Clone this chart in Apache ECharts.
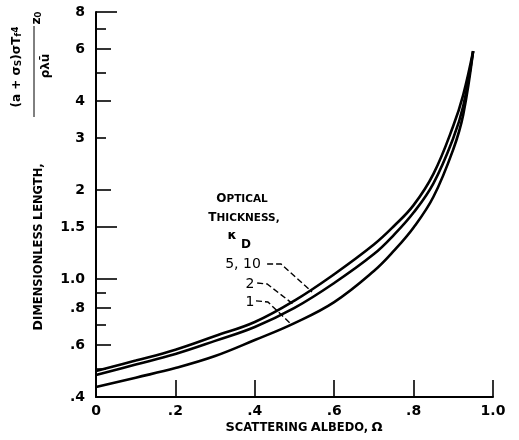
<!DOCTYPE html>
<html>
<head>
<meta charset="utf-8">
<script src="https://cdn.jsdelivr.net/npm/echarts@6/dist/echarts.min.js"></script>
<style>
  html, body { margin: 0; padding: 0; background: #fff; }
  #chart { width: 519px; height: 440px; }
</style>
</head>
<body>
<div id="chart"></div>
<script>
var chartDom = document.getElementById('chart')
var chart = echarts.init(chartDom, null, { renderer: 'canvas' })

// scattering albedo values where the curves were read
var albedo = [0, 0.1, 0.2, 0.3, 0.4, 0.5, 0.6, 0.7, 0.75, 0.8, 0.85, 0.9, 0.925, 0.95]
// dimensionless length for each optical thickness
var kappa1 = [0.432, 0.465, 0.501, 0.55, 0.623, 0.711, 0.837, 1.066, 1.246, 1.496, 1.9, 2.75, 3.6, 5.9]
var kappa2 = [0.475, 0.515, 0.559, 0.619, 0.69, 0.8, 0.971, 1.216, 1.41, 1.68, 2.11, 3.0, 3.85, 5.9]
var kappa510 = [0.49, 0.531, 0.578, 0.643, 0.717, 0.847, 1.04, 1.31, 1.51, 1.78, 2.27, 3.3, 4.2, 5.9]

// y axis ticks (log scale)
var yLabels = [8, 6, 4, 3, 2, 1.5, 1.0, 0.8, 0.6, 0.4]
var yLabelText = ['8', '6', '4', '3', '2', '1.5', '1.0', '.8', '.6', '.4']
var yTicksLong = [8, 1.5, 1.0]
var yTicksMid = [6, 4, 2, 0.8, 0.6]
var yTicksShort = [7, 5, 3, 0.9, 0.7, 0.5]

// leader lines: [label end, elbow, point on curve] in data units
var leader510 = [[0.431, 1.126], [0.466, 1.126], [0.544, 0.906]]
var leader2 = [[0.406, 0.971], [0.431, 0.964], [0.496, 0.825]]
var leader1 = [[0.403, 0.845], [0.433, 0.838], [0.491, 0.706]]

var font = 'DejaVu Sans'

function pairs(ys) {
  return albedo.map(function (x, i) { return [x, ys[i]] })
}

function yLabelFormat(v) {
  for (var i = 0; i < yLabels.length; i++) {
    if (Math.abs(yLabels[i] - v) < 1e-6) return yLabelText[i]
  }
  return ''
}

function tickAxis(values, len, withLine) {
  return {
    type: 'log',
    logBase: 10,
    min: 0.4,
    max: 8,
    position: 'left',
    offset: 0,
    axisLine: { show: withLine, lineStyle: { color: '#000', width: 2 } },
    axisTick: {
      show: true,
      inside: true,
      length: len,
      customValues: values,
      lineStyle: { color: '#000', width: 1.6 }
    },
    axisLabel: { show: false },
    splitLine: { show: false }
  }
}

function lineSeries(name, ys) {
  return {
    name: name,
    type: 'line',
    data: pairs(ys),
    smooth: 0.4,
    showSymbol: false,
    lineStyle: { color: '#000', width: 2.6 },
    silent: true
  }
}

var mainY = tickAxis(yTicksLong, 21, true)
mainY.axisLabel = {
  show: true,
  customValues: yLabels,
  formatter: yLabelFormat,
  margin: 11,
  color: '#000',
  fontFamily: font,
  fontWeight: 'bold',
  fontSize: 14
}

option = {
  backgroundColor: '#fff',
  animation: false,
  grid: { left: 96, right: 26, top: 12, bottom: 43 },
  xAxis: {
    type: 'value',
    min: 0,
    max: 1,
    interval: 0.2,
    axisLine: { lineStyle: { color: '#000', width: 2 } },
    axisTick: { inside: true, length: 17, lineStyle: { color: '#000', width: 1.6 } },
    axisLabel: {
      margin: 7,
      color: '#000',
      fontFamily: font,
      fontWeight: 'bold',
      fontSize: 14,
      formatter: function (v) {
        if (v === 0) return '0'
        if (Math.abs(v - 1) < 1e-6) return '1.0'
        return '.' + Math.round(v * 10)
      }
    },
    splitLine: { show: false }
  },
  yAxis: [mainY, tickAxis(yTicksMid, 15, false), tickAxis(yTicksShort, 10, false)],
  series: [
    lineSeries('1', kappa1),
    lineSeries('2', kappa2),
    lineSeries('5, 10', kappa510)
  ]
}

chart.setOption(option)

// annotations placed after the axes exist
function px(p) { return chart.convertToPixel({ xAxisIndex: 0, yAxisIndex: 0 }, p) }
function leader(pts) {
  return {
    type: 'polyline',
    shape: { points: pts.map(px) },
    style: { stroke: '#000', lineWidth: 1.4, lineDash: [6, 3], fill: null },
    silent: true
  }
}

var big = { fontFamily: font, fontWeight: 'bold', fontSize: 12 }
var sm = { fontFamily: font, fontWeight: 'bold', fontSize: 10.5 }
var titleBig = { fontFamily: font, fontWeight: 'bold', fontSize: 13 }
var titleSm = { fontFamily: font, fontWeight: 'bold', fontSize: 11.5 }

chart.setOption({
  graphic: [
    {
      type: 'text', x: 242, y: 199,
      style: { text: '{b|O}{s|PTICAL}', rich: { b: big, s: sm }, align: 'center', verticalAlign: 'middle', fill: '#000' }
    },
    {
      type: 'text', x: 244, y: 218,
      style: { text: '{b|T}{s|HICKNESS,}', rich: { b: big, s: sm }, align: 'center', verticalAlign: 'middle', fill: '#000' }
    },
    {
      type: 'text', x: 232, y: 236,
      style: { text: 'κ', font: 'bold 13px ' + font, align: 'center', verticalAlign: 'middle', fill: '#000' }
    },
    {
      type: 'text', x: 246, y: 245,
      style: { text: 'D', font: 'bold 12px ' + font, align: 'center', verticalAlign: 'middle', fill: '#000' }
    },
    {
      type: 'text', x: 243, y: 264,
      style: { text: '5, 10', font: '14px ' + font, align: 'center', verticalAlign: 'middle', fill: '#000' }
    },
    {
      type: 'text', x: 250, y: 284,
      style: { text: '2', font: '14px ' + font, align: 'center', verticalAlign: 'middle', fill: '#000' }
    },
    {
      type: 'text', x: 250, y: 302,
      style: { text: '1', font: '14px ' + font, align: 'center', verticalAlign: 'middle', fill: '#000' }
    },
    leader(leader510),
    leader(leader2),
    leader(leader1),
    {
      type: 'text', x: 304, y: 428,
      style: {
        text: '{b|S}{s|CATTERING} {b|A}{s|LBEDO,} {b|Ω}',
        rich: { b: titleBig, s: titleSm },
        align: 'center', verticalAlign: 'middle', fill: '#000'
      }
    },
    {
      type: 'text', x: 39, y: 247, rotation: Math.PI / 2,
      style: {
        text: '{b|D}{s|IMENSIONLESS} {b|L}{s|ENGTH,}',
        rich: { b: titleBig, s: titleSm },
        align: 'center', verticalAlign: 'middle', fill: '#000'
      }
    },
    {
      type: 'text', x: 17, y: 67, rotation: Math.PI / 2,
      style: {
        text: '{n|(a + σ}{sub|S}{n|)σT}{sub|f}{sup|4}',
        rich: {
          n: { fontFamily: font, fontWeight: 'bold', fontSize: 12 },
          sub: { fontFamily: font, fontWeight: 'bold', fontSize: 9, verticalAlign: 'bottom' },
          sup: { fontFamily: font, fontWeight: 'bold', fontSize: 9, verticalAlign: 'top' }
        },
        align: 'center', verticalAlign: 'middle', fill: '#000'
      }
    },
    {
      type: 'line', silent: true,
      shape: { x1: 34, y1: 117, x2: 34, y2: 26 },
      style: { stroke: '#000', lineWidth: 1 }
    },
    {
      type: 'text', x: 46, y: 66, rotation: Math.PI / 2,
      style: { text: 'ρλū', font: 'bold 12px ' + font, align: 'center', verticalAlign: 'middle', fill: '#000' }
    },
    {
      type: 'text', x: 37, y: 18, rotation: Math.PI / 2,
      style: {
        text: '{n|z}{sub|0}',
        rich: {
          n: { fontFamily: font, fontWeight: 'bold', fontSize: 12 },
          sub: { fontFamily: font, fontWeight: 'bold', fontSize: 9, verticalAlign: 'bottom' }
        },
        align: 'center', verticalAlign: 'middle', fill: '#000'
      }
    }
  ]
})
</script>
</body>
</html>
